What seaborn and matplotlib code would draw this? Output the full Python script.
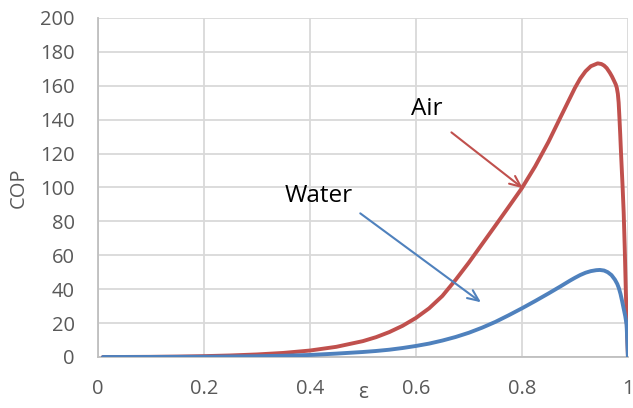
import numpy as np
import pandas as pd
import matplotlib
matplotlib.use("Agg")
import matplotlib.pyplot as plt
import seaborn as sns

# Effectiveness values and coefficient of performance for each working fluid
eps_air = [0.01, 0.05, 0.1, 0.15, 0.2, 0.25, 0.3, 0.35, 0.4, 0.45, 0.5, 0.525,
           0.55, 0.575, 0.6, 0.625, 0.65, 0.675, 0.7, 0.725, 0.75, 0.775, 0.8,
           0.825, 0.85, 0.875, 0.9, 0.91, 0.92, 0.93, 0.943, 0.95, 0.955,
           0.96, 0.966, 0.97, 0.974, 0.977, 0.979, 0.981, 0.9825, 0.984,
           0.9855, 0.987, 0.9885, 0.99, 0.992, 0.994, 0.996, 0.998, 1.0]
cop_air = [0.0, 0.03, 0.1, 0.25, 0.5, 0.9, 1.5, 2.4, 3.8, 6.0, 9.35, 11.7,
           14.7, 18.4, 23.0, 28.7, 36.0, 45.5, 55.7, 66.6, 77.5, 88.5, 99.6,
           112.4, 126.8, 142.8, 158.7, 164.2, 168.5, 171.5, 173.2, 172.8, 171.9,
           170.4, 167.6, 165.4, 162.8, 160.8, 158.8, 155.2, 150.0, 141.0,
           131.0, 120.0, 110.0, 100.0, 85.0, 64.0, 39.0, 18.0, 0.0]

eps_water = [0.01, 0.1, 0.2, 0.3, 0.35, 0.4, 0.45, 0.5, 0.525, 0.55, 0.575, 0.6,
             0.625, 0.65, 0.675, 0.7, 0.725, 0.75, 0.775, 0.8, 0.825, 0.85,
             0.872, 0.891, 0.9, 0.91, 0.92, 0.93, 0.94, 0.947, 0.955, 0.962,
             0.969, 0.9755, 0.98, 0.983, 0.986, 0.989, 0.992, 0.995, 0.9975, 1.0]
cop_water = [0.0, 0.03, 0.15, 0.45, 0.75, 1.2, 2.0, 2.95, 3.55, 4.3, 5.3, 6.5,
             7.9, 9.7, 11.8, 14.3, 17.3, 20.7, 24.6, 28.7, 33.0, 37.45,
             41.5, 45.1, 46.7, 48.35, 49.7, 50.65, 51.2, 51.35, 51.0, 50.0,
             48.3, 45.6, 43.0, 40.5, 37.2, 33.0, 28.5, 24.0, 19.0, 0.0]

x_ticks = [0, 0.2, 0.4, 0.6, 0.8, 1.0]
x_tick_labels = ["0", "0.2", "0.4", "0.6", "0.8", "1"]
y_ticks = list(range(0, 201, 20))

RED = "#C0504D"
BLUE = "#4F81BD"
GRID = "#d9d9d9"
TICK = "#595959"

df = pd.concat([
    pd.DataFrame({"eps": eps_air, "COP": cop_air, "fluid": "Air"}),
    pd.DataFrame({"eps": eps_water, "COP": cop_water, "fluid": "Water"}),
])

sns.set_style("white")
plt.rcParams["font.family"] = ["Open Sans", "DejaVu Sans"]

fig = plt.figure(figsize=(6.33, 4.08), dpi=100)
ax = fig.add_axes([0.1543, 0.125, 0.8377, 0.8311])

sns.lineplot(data=df, x="eps", y="COP", hue="fluid",
             palette={"Air": RED, "Water": BLUE}, linewidth=2.8,
             sort=False, estimator=None, legend=False, ax=ax, zorder=3)
for line in ax.lines:
    line.set_solid_joinstyle("round")
    line.set_solid_capstyle("round")

ax.set_xlim(0, 1)
ax.set_ylim(0, 200)
ax.set_xticks(x_ticks)
ax.set_xticklabels(x_tick_labels)
ax.set_yticks(y_ticks)
ax.grid(True, color=GRID, linewidth=1.3, zorder=0)
ax.set_axisbelow(True)
for side in ["top", "right"]:
    ax.spines[side].set_visible(False)
for side in ["left", "bottom"]:
    ax.spines[side].set_color("#bfbfbf")
    ax.spines[side].set_linewidth(1.3)
ax.tick_params(axis="both", length=0, labelsize=14.5, colors=TICK)
ax.tick_params(axis="y", pad=16.5)
ax.tick_params(axis="x", pad=16)

ax.set_xlabel("ε", fontsize=15, color=TICK)
ax.xaxis.set_label_coords(0.5, -0.075)
ax.set_ylabel("COP", fontsize=14.5, color=TICK, labelpad=8.5)

# Callout labels with arrows pointing at each curve
ax.annotate("", xy=(0.806, 98.5), xytext=(0.663, 133.5),
            arrowprops=dict(arrowstyle="->,head_length=0.8,head_width=0.35",
                            color=RED, lw=1.5), zorder=4)
ax.text(0.620, 146.3, "Air", fontsize=17.5, color="black", ha="center", va="center")

ax.annotate("", xy=(0.727, 31.3), xytext=(0.491, 85.7),
            arrowprops=dict(arrowstyle="->,head_length=0.8,head_width=0.35",
                            color=BLUE, lw=1.5), zorder=4)
ax.text(0.416, 95.1, "Water", fontsize=17.5, color="black", ha="center", va="center")

fig.savefig("out.png", dpi=100)
